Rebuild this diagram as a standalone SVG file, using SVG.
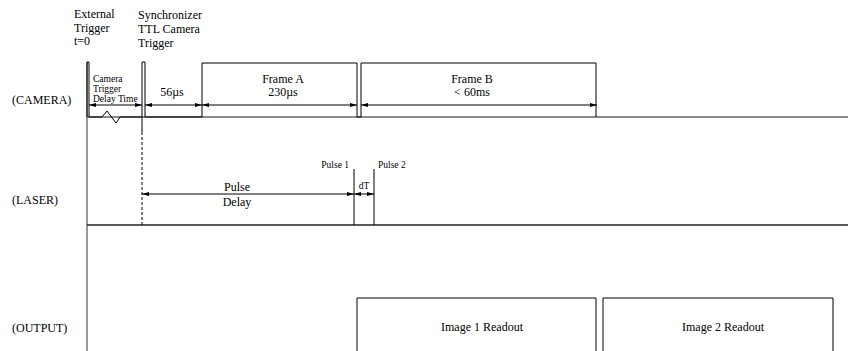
<svg xmlns="http://www.w3.org/2000/svg" width="848" height="351" viewBox="0 0 848 351">
<defs>
<marker id="ah" markerWidth="7" markerHeight="4" refX="7" refY="2" orient="auto-start-reverse" markerUnits="userSpaceOnUse">
<path d="M0,0 L7,2 L0,4 Z" fill="#000"/>
</marker>
<style>
text{font-family:"Liberation Serif","Times New Roman",serif;fill:#000}
.lbl{font-size:12px}
.sm{font-size:9.5px}
.sig{fill:none;stroke:#000;stroke-width:1}
.base{fill:none;stroke:#666;stroke-width:1.5}
.dim{stroke:#000;stroke-width:1;marker-start:url(#ah);marker-end:url(#ah)}
.box{fill:#fff;stroke:#000;stroke-width:1}
</style>
</defs>
<rect width="848" height="351" fill="#fff"/>

<g id="labels">
<text class="lbl" x="12" y="104">(CAMERA)</text>
<text class="lbl" x="12" y="204">(LASER)</text>
<text class="lbl" x="12" y="332">(OUTPUT)</text>
<text class="lbl" x="74" y="18">External</text>
<text class="lbl" x="74" y="32">Trigger</text>
<text class="lbl" x="74" y="45">t=0</text>
<text class="lbl" x="138" y="19">Synchronizer</text>
<text class="lbl" x="138" y="33">TTL Camera</text>
<text class="lbl" x="138" y="47">Trigger</text>
</g>

<g id="axis">
<line x1="87" y1="62" x2="87" y2="351" stroke="#777" stroke-width="1.5"/>
<line x1="87" y1="117" x2="848" y2="117" class="base"/>
<line x1="87" y1="225" x2="848" y2="225" stroke="#222" stroke-width="1.5"/>
</g>

<g id="camera">
<path class="sig" d="M87,117 V62 H89 V117 H102 L107,111 L116,123 L120,117 H142 V62 H145 V117 H202 V63 H357 V117 H361 V63 H596 V117"/>
<line x1="142" y1="117" x2="142" y2="132" stroke="#000" stroke-width="1"/>
<line x1="142" y1="132" x2="142" y2="225" stroke="#000" stroke-width="1" stroke-dasharray="3,2"/>
<text class="sm" x="93" y="81.5">Camera</text>
<text class="sm" x="93" y="91.5">Trigger</text>
<text class="sm" x="93" y="101.5">Delay Time</text>
<text class="lbl" x="172" y="96" text-anchor="middle">56µs</text>
<text class="lbl" x="283" y="83" text-anchor="middle">Frame A</text>
<text class="lbl" x="283" y="96" text-anchor="middle">230µs</text>
<text class="lbl" x="472" y="83" text-anchor="middle">Frame B</text>
<text class="lbl" x="472" y="96" text-anchor="middle">&lt; 60ms</text>
</g>

<g id="laser">
<line x1="354" y1="169" x2="354" y2="225" stroke="#000" stroke-width="1"/>
<line x1="374" y1="169" x2="374" y2="225" stroke="#000" stroke-width="1"/>
<text class="sm" x="349" y="168" text-anchor="end">Pulse 1</text>
<text class="sm" x="378" y="168">Pulse 2</text>
<text class="sm" x="364" y="189" text-anchor="middle">dT</text>
<text class="lbl" x="237" y="191" text-anchor="middle">Pulse</text>
<text class="lbl" x="237" y="206" text-anchor="middle">Delay</text>
</g>

<g id="output">
<path class="box" d="M357,351 V298 H596 V351"/>
<path class="box" d="M603,351 V298 H833 V351"/>
<text class="lbl" x="482" y="331" text-anchor="middle">Image 1 Readout</text>
<text class="lbl" x="723" y="331" text-anchor="middle">Image 2 Readout</text>
</g>

<g id="connectors">
<line class="dim" x1="89" y1="105" x2="142" y2="105"/>
<line class="dim" x1="145" y1="105" x2="202" y2="105"/>
<line class="dim" x1="202" y1="105" x2="357" y2="105"/>
<line class="dim" x1="361" y1="105" x2="597" y2="105"/>
<line class="dim" x1="142" y1="194" x2="354" y2="194"/>
<line class="dim" x1="354" y1="194" x2="374" y2="194"/>
</g>
</svg>
